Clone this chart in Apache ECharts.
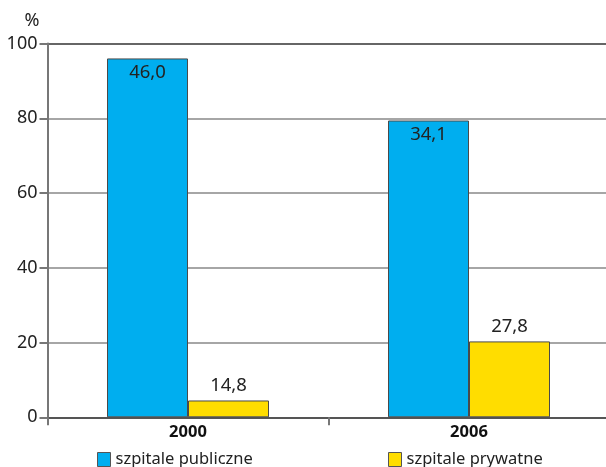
<!DOCTYPE html>
<html><head><meta charset="utf-8">
<script src="https://cdn.jsdelivr.net/npm/echarts@6/dist/echarts.min.js"></script>
<style>html,body{margin:0;padding:0;background:#fff}#c{width:606px;height:467px}</style>
</head><body><div id="c"></div>
<script>
var categories = ['2000', '2006'];
var seriesNames = ['szpitale publiczne', 'szpitale prywatne'];
var publicHeights = [96, 79.4];
var privateHeights = [4.5, 20.3];
var publicLabels = ['46,0', '34,1'];
var privateLabels = ['14,8', '27,8'];
var yTicks = [0, 20, 40, 60, 80, 100];

var font = 'Noto Sans';
var legendText = {fontSize: 16.5, color: '#222', fontFamily: font};
var chart = echarts.init(document.getElementById('c'), null, {renderer: 'canvas'});
chart.setOption({
  animation: false,
  textStyle: {fontFamily: font},
  grid: {left: 47.5, width: 562, top: 43.5, bottom: 49.7, containLabel: false, outerBoundsMode: 'none'},
  legend: [
    {data: [seriesNames[0]], left: 97, top: 451, padding: 0, icon: 'rect', itemWidth: 13, itemHeight: 14, itemGap: 5,
     itemStyle: {borderColor: '#555', borderWidth: 1}, textStyle: legendText},
    {data: [seriesNames[1]], left: 388, top: 451, padding: 0, icon: 'rect', itemWidth: 13, itemHeight: 14, itemGap: 5,
     itemStyle: {borderColor: '#555', borderWidth: 1}, textStyle: legendText}
  ],
  xAxis: {
    type: 'category', data: categories,
    axisLine: {lineStyle: {color: '#555', width: 2}},
    axisTick: {show: true, length: 8, lineStyle: {color: '#777', width: 2}},
    axisLabel: {fontSize: 16.5, fontWeight: 'bold', color: '#111', margin: 6}
  },
  yAxis: {
    type: 'value', min: yTicks[0], max: yTicks[yTicks.length - 1], interval: 20,
    name: '%', nameLocation: 'end', nameGap: 14,
    nameTextStyle: {fontSize: 18, color: '#222', align: 'right', padding: [0, 8, 0, 0]},
    axisLine: {show: true, lineStyle: {color: '#777', width: 2}},
    axisTick: {show: true, length: 8, lineStyle: {color: '#777', width: 2}},
    axisLabel: {fontSize: 18, color: '#222', margin: 10},
    splitLine: {show: true, lineStyle: {color: ['#555', '#888', '#888', '#888', '#888', '#333'], width: 1.5}}
  },
  series: [
    {name: seriesNames[0], type: 'bar', data: publicHeights, barWidth: 81, barGap: '0%',
     itemStyle: {color: '#00AEEF', borderColor: '#4a4a4a', borderWidth: 1},
     label: {show: true, position: 'insideTop', distance: 5, fontSize: 18.5, color: '#222',
       formatter: function (p) { return publicLabels[p.dataIndex]; }}},
    {name: seriesNames[1], type: 'bar', data: privateHeights, barWidth: 81, barGap: '0%',
     itemStyle: {color: '#FFDD00', borderColor: '#4a4a4a', borderWidth: 1},
     label: {show: true, position: 'top', distance: 5, fontSize: 18.5, color: '#222',
       formatter: function (p) { return privateLabels[p.dataIndex]; }}}
  ]
});
</script></body></html>
